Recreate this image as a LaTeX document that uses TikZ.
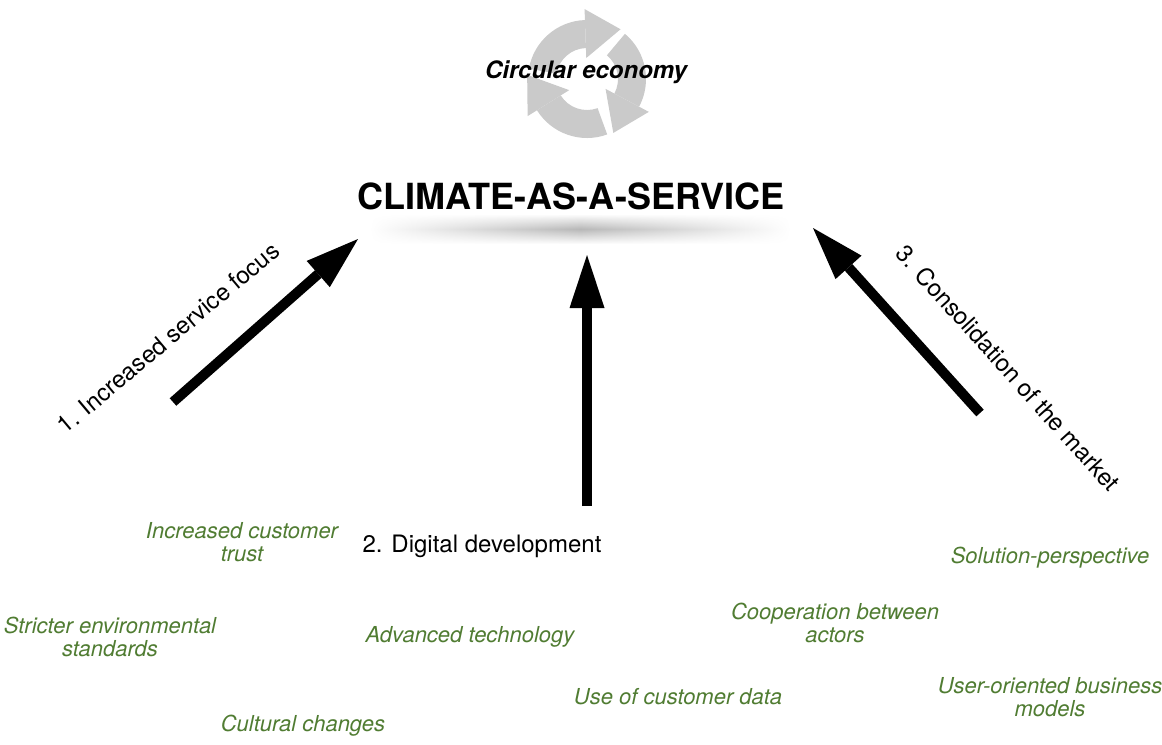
\documentclass[tikz,border=0pt]{standalone}
\usepackage{fontspec}
\setmainfont{TeX Gyre Heros}
\usetikzlibrary{arrows.meta,fadings}
\definecolor{cgreen}{RGB}{80,124,50}
\definecolor{cgray}{RGB}{202,202,202}
\tikzfading[name=fadelr, left color=transparent!100, right color=transparent!100, middle color=transparent!0]
\tikzset{
  greentext/.style={inner sep=0pt, align=center, text=cgreen, font=\fontsize{16.5}{17.5}\selectfont\itshape},
  blacklabel/.style={inner sep=0pt, font=\fontsize{18}{21}\selectfont},
  bigarrow/.style={line width=7.5pt, -{Triangle[length=39.75pt, width=26.25pt, line width=0pt]}},
}
\begin{document}
\begin{tikzpicture}[x=0.75pt, y=-0.75pt]
\useasboundingbox (0,0) rectangle (1162,744);
% shadow under title
\shade[top color=white, bottom color=white, middle color=black!28, path fading=fadelr] (370,214) rectangle (790,244);
% circular icon
\begin{scope}[shift={(587,79)}, yscale=-1]
  \foreach \a in {170,50,-70}{
    \fill[cgray] (\a:59) arc[start angle=\a, end angle=\a-78, radius=59] -- ({\a-78}:31) arc[start angle=\a-78, end angle=\a, radius=31] -- cycle;
    \fill[cgray] ({\a-78}:21) -- ({\a-78}:70) -- ({\a-114}:60) -- cycle;
  }
\end{scope}
\node[inner sep=0pt, font=\fontsize{18}{21}\selectfont\bfseries\itshape] (ce) at (586,72) {Circular economy};
\node[inner sep=0pt, font=\fontsize{27}{32}\selectfont\bfseries] (title) at (571,196) {CLIMATE-AS-A-SERVICE};
% arrows
\coordinate (a1s) at (173,402); \coordinate (a1e) at (358,239);
\coordinate (a2s) at (587,506); \coordinate (a2e) at (587,255);
\coordinate (a3s) at (980,413); \coordinate (a3e) at (813,228);
\draw[bigarrow] (a1s) -- (a1e);
\draw[bigarrow] (a2s) -- (a2e);
\draw[bigarrow] (a3s) -- (a3e);
% labels
\node[blacklabel, rotate=40] (l1) at (168,338) {1. Increased service focus};
\node[blacklabel] (l2) at (482,546) {2. Digital development};
\node[blacklabel, rotate=-48] (l3) at (1008,368) {3. Consolidation of the market};
% green factors
\node[greentext] (g1) at (242,542) {Increased customer\\trust};
\node[greentext] (g2) at (110,637) {Stricter environmental\\standards};
\node[greentext] (g3) at (470,637) {Advanced technology};
\node[greentext] (g4) at (303,726) {Cultural changes};
\node[greentext] (g5) at (835,623) {Cooperation between\\actors};
\node[greentext] (g6) at (678,697) {Use of customer data};
\node[greentext] (g7) at (1050,558) {Solution-perspective};
\node[greentext] (g8) at (1050,697) {User-oriented business\\models};
\end{tikzpicture}
\end{document}
